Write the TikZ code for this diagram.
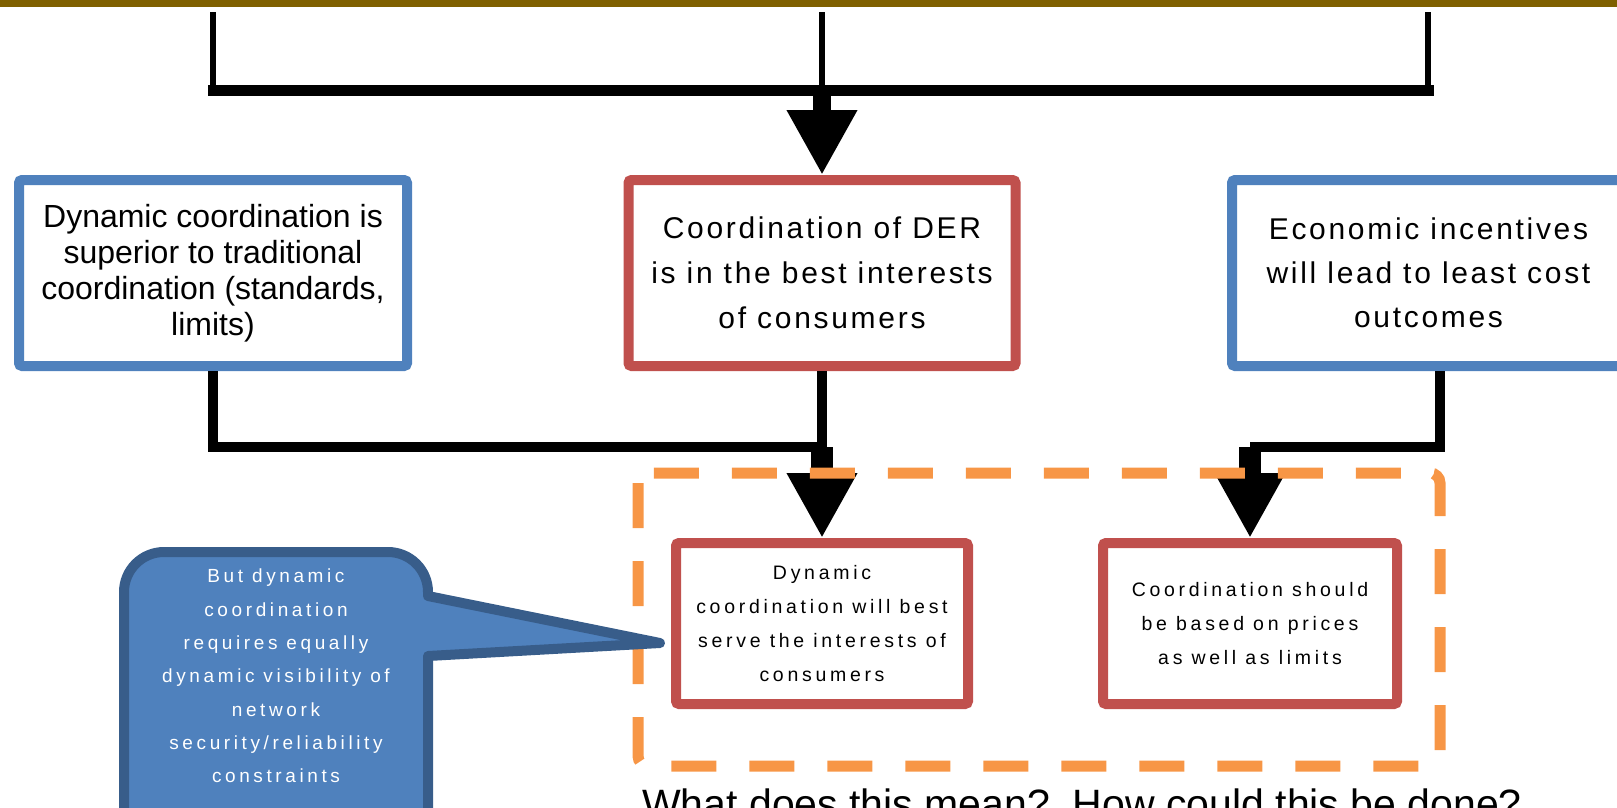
\documentclass[tikz,border=0pt]{standalone}
\usepackage{fontspec}
\setmainfont{Liberation Sans}
\newfontfamily\spacedfont[LetterSpace=9]{Liberation Sans}
\newfontfamily\widefont[LetterSpace=19]{Liberation Sans}
\usetikzlibrary{arrows.meta,calc}
\definecolor{barolive}{HTML}{7F6000}
\definecolor{boxblue}{HTML}{4F81BD}
\definecolor{boxred}{HTML}{C0504D}
\definecolor{frameorange}{HTML}{F79646}
\definecolor{calloutline}{HTML}{385D8A}

\begin{document}
\begin{tikzpicture}[x=1pt,y=-1pt,
  bluebox/.style={draw=boxblue,line width=10pt,rounded corners=3pt,fill=white,
    align=center,inner sep=0pt,minimum height=186pt},
  redbox/.style={bluebox,draw=boxred},
  lowbox/.style={redbox,minimum height=161pt,
    font=\widefont\fontsize{19.5pt}{34pt}\selectfont},
  link/.style={line width=10pt},
  thinlink/.style={line width=6pt},
  fatarrow/.style={line width=22pt,-{Triangle[width=66pt,length=65pt]}},
  frameline/.style={draw=frameorange,line width=11pt,rounded corners=10pt,
    dash pattern=on 45pt off 33pt},
  calloutshape/.style={fill=boxblue,draw=calloutline,line width=10pt,line join=round},
  callouttext/.style={text=white,align=center,inner sep=0pt,
    font=\widefont\fontsize{19pt}{33.3pt}\selectfont}]
\useasboundingbox (0,0) rectangle (1617,807);
\fill[barolive] (0,0) rectangle (1617,7);

\node[bluebox,minimum width=388pt,font=\fontsize{32pt}{36pt}\selectfont] (lbox) at (213,273)
  {Dynamic coordination is\\superior to traditional\\coordination (standards,\\limits)};
\node[redbox,minimum width=387pt,font=\spacedfont\fontsize{30pt}{45pt}\selectfont] (cbox) at (822,273)
  {Coordination of DER\\is in the best interests\\of consumers};
\node[bluebox,minimum width=393pt,font=\spacedfont\fontsize{30pt}{44pt}\selectfont] (rbox) at (1428.5,273)
  {Economic incentives\\will lead to least cost\\outcomes};

\node[lowbox,minimum width=292pt] (llow) at (822,623.5)
  {Dynamic\\coordination will best\\serve the interests of\\consumers};
\node[lowbox,minimum width=294pt] (rlow) at (1250,623.5)
  {Coordination should\\be based on prices\\as well as limits};

\coordinate (ltop) at (213,12);
\coordinate (ctop) at (822,12);
\coordinate (rtop) at (1428,12);
\coordinate (bar) at (822,90);
\coordinate (ljoin) at (822,447);
\coordinate (rjoin) at (1250,447);

\draw[thinlink] (ltop) -- (ltop |- bar);
\draw[thinlink] (ctop) -- (bar);
\draw[thinlink] (rtop) -- (rtop |- bar);
\draw[line width=11pt,line cap=rect] (ltop |- bar) -- (rtop |- bar);
\draw[fatarrow,line width=18pt] (bar) -- (cbox.north);

\draw[link] (lbox.south) |- (ljoin);
\draw[link] (cbox.south) -- (ljoin);
\draw[fatarrow] (ljoin) -- (llow.north);
\draw[link] ([xshift=11pt]rbox.south) |- (rjoin);
\draw[fatarrow] (rjoin) -- (rlow.north);

\draw[frameline] (638,473) rectangle (1440,766);

\draw[calloutshape] (428,596) [rounded corners=40pt] -- (428,552) -- (124,552)
  -- (124,850) -- (428,850) [sharp corners] -- (428,656) -- (660,643) -- cycle;
\node[callouttext] (note) at (276,676)
  {But dynamic\\coordination\\requires equally\\dynamic visibility of\\network\\security/reliability\\constraints};

\node[anchor=north west,inner sep=0pt,font=\fontsize{41pt}{49pt}\selectfont] (question) at (642,789)
  {What does this mean?\ \ How could this be done?};
\end{tikzpicture}
\end{document}
